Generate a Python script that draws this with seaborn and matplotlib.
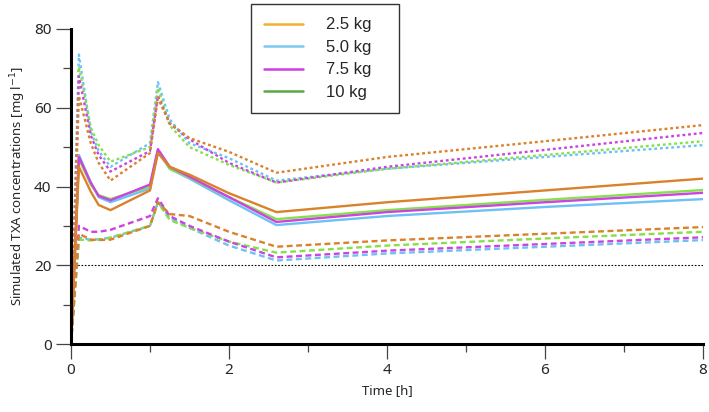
import pandas as pd
import matplotlib
import matplotlib.pyplot as plt
import seaborn as sns
import numpy as np
from matplotlib.lines import Line2D
matplotlib.use('Agg')

# time points [h]
time = [0, 0.1, 0.25, 0.35, 0.5, 1.0, 1.1, 1.25, 1.5, 2.0, 2.6, 4, 6, 8]

weights = ['2.5 kg', '5.0 kg', '7.5 kg', '10 kg']

# median (solid)
med_25 = [0, 45, 38.7, 35.3, 34, 39, 48.5, 45, 43, 38.3, 33.5, 36, 39, 42]
med_50 = [0, 48, 41, 37.3, 36, 39.5, 49, 44.5, 42, 36.5, 30.2, 32.5, 34.8, 36.8]
med_75 = [0, 47.5, 41, 37.6, 36.5, 40.5, 49.5, 45, 42.5, 37.3, 31, 33.5, 36, 38.4]
med_10 = [0, 47, 40.5, 37.8, 36.8, 40, 49, 44.5, 42.3, 37.3, 31.7, 34, 36.6, 39.1]

# upper band (dotted)
up_25 = [0, 63, 51, 46, 41.5, 48.5, 62.5, 56, 52.3, 48.8, 43.5, 47.5, 51.5, 55.6]
up_50 = [0, 73.5, 54, 49, 45, 51, 66.5, 57, 51, 47.2, 41.5, 44.5, 47.5, 50.5]
up_75 = [0, 68, 53, 48, 43.8, 49, 63, 56, 52, 46, 41, 45, 49.3, 53.6]
up_10 = [0, 70.4, 55, 50.5, 46.3, 50, 65, 55.5, 50, 45.5, 41, 44.5, 48, 51.5]

# lower band (dashed)
lo_25 = [0, 28, 26.5, 26.4, 26.5, 30, 36, 33, 32.5, 28.5, 24.7, 26.3, 28, 29.7]
lo_50 = [0, 27, 26.5, 26.6, 27, 30, 36, 32, 29.5, 25, 21.2, 23, 24.7, 26.4]
lo_75 = [0, 30, 28.5, 28.5, 29, 32.5, 37, 32.5, 30, 26, 22, 23.7, 25.4, 27.1]
lo_10 = [0, 26.5, 26.3, 26.5, 27, 30, 36, 31.5, 29.5, 26, 23.2, 25, 26.8, 28.5]

line_colors = {'2.5 kg': '#D9822B', '5.0 kg': '#6EC1F5', '7.5 kg': '#CC44E0', '10 kg': '#86E04A'}
legend_colors = ['#F0B030', '#7CC8F2', '#D23CE8', '#5AA845']

series = {
    '2.5 kg': (med_25, up_25, lo_25),
    '5.0 kg': (med_50, up_50, lo_50),
    '7.5 kg': (med_75, up_75, lo_75),
    '10 kg': (med_10, up_10, lo_10),
}

rows = []
for w, (m, u, l) in series.items():
    for stat, vals in (('median', m), ('upper', u), ('lower', l)):
        for t, v in zip(time, vals):
            rows.append({'time': t, 'conc': v, 'weight': w, 'stat': stat})
df = pd.DataFrame(rows)

sns.set_style('ticks')
plt.rcParams['font.family'] = ['Noto Sans', 'DejaVu Sans']

fig = plt.figure(figsize=(7.09, 4.12), dpi=100)
ax = fig.add_axes([71 / 709, 68 / 412, 632 / 709, 315 / 412])

ax.axhline(20, color='black', lw=0.8, ls=(0, (1.5, 1.5)), zorder=1)

# draw back to front so 2.5 kg ends up on top
order = ['5.0 kg', '10 kg', '7.5 kg', '2.5 kg']
dash_map = {'median': '', 'upper': (1.2, 1.2), 'lower': (2.5, 1.5)}
for w in order:
    sub = df[df['weight'] == w]
    sns.lineplot(data=sub, x='time', y='conc', style='stat', dashes=dash_map,
                 color=line_colors[w], lw=1.7, legend=False, ax=ax,
                 estimator=None, sort=False)

ax.set_xlim(0, 8)
ax.set_ylim(0, 80)
ax.set_xticks([0, 2, 4, 6, 8])
ax.set_xticks([1, 3, 5, 7], minor=True)
ax.set_yticks([0, 20, 40, 60, 80])
ax.set_yticks([10, 30, 50, 70], minor=True)
ax.tick_params(which='major', length=11, width=0.9, color='#444444', labelsize=11, pad=3)
ax.tick_params(which='minor', length=6, width=0.9, color='#444444')
sns.despine(ax=ax)
for s in ('left', 'bottom'):
    ax.spines[s].set_linewidth(2.2)
    ax.spines[s].set_color('black')

ax.set_xlabel('Time [h]', fontsize=9.5)
ax.set_ylabel('Simulated TXA concentrations [mg l$^{-1}$]', fontsize=9.5)

handles = [Line2D([], [], color=c, lw=1.8) for c in legend_colors]
leg = fig.legend(handles, [w + '   ' for w in weights], loc='upper left',
                 bbox_to_anchor=(251 / 709, 1 - 4 / 412),
                 fancybox=False, frameon=True, edgecolor='black',
                 handlelength=2.3, handletextpad=1.4, labelspacing=0.45,
                 borderpad=0.8, borderaxespad=0,
                 prop={'family': 'Liberation Sans', 'size': 12})
leg.get_frame().set_linewidth(1.0)

fig.savefig('out.png', dpi=100)
